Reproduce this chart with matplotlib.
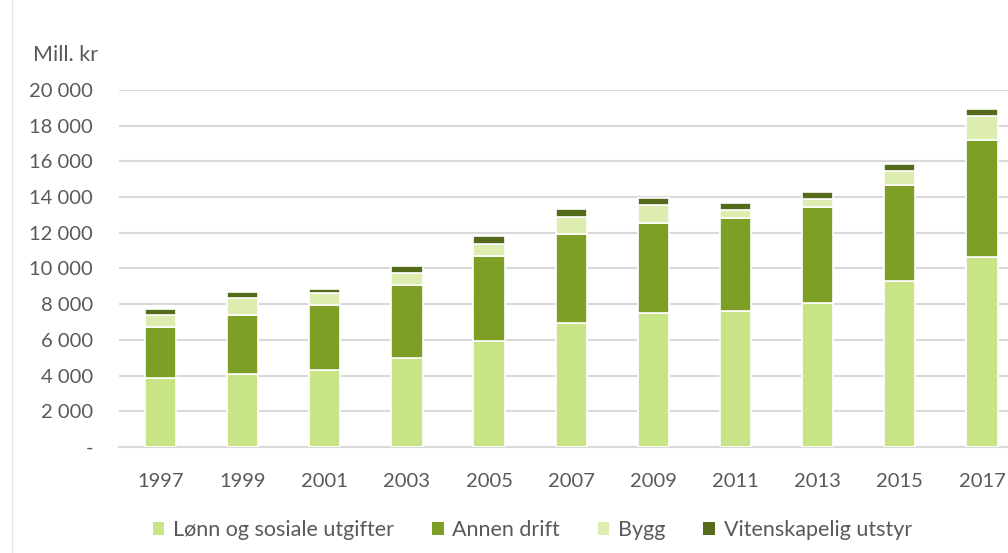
import matplotlib
matplotlib.use("Agg")
import matplotlib.pyplot as plt
import numpy as np
from matplotlib.patches import Patch
from matplotlib.lines import Line2D
from matplotlib.ticker import FuncFormatter

years = ["1997", "1999", "2001", "2003", "2005", "2007", "2009", "2011", "2013", "2015", "2017"]
lonn = [3870, 4090, 4330, 4970, 5960, 6950, 7520, 7640, 8050, 9320, 10660]
annen = [2850, 3290, 3630, 4090, 4720, 5000, 5010, 5190, 5410, 5360, 6520]
bygg = [690, 990, 650, 670, 690, 920, 1040, 450, 450, 780, 1380]
vitensk = [300, 310, 240, 410, 450, 440, 360, 370, 390, 410, 380]

series = [
    ("Lønn og sosiale utgifter", lonn, "#c9e387"),
    ("Annen drift", annen, "#7e9f26"),
    ("Bygg", bygg, "#dcedaf"),
    ("Vitenskapelig utstyr", vitensk, "#556b1c"),
]

plt.rcParams["font.family"] = ["Lato", "DejaVu Sans"]
text_color = "#595959"
fs = 14.5

fig = plt.figure(figsize=(10.08, 5.53), dpi=100)
ax = fig.add_axes([0.1185, 0.1917, 0.8964, 0.6456])

x = np.arange(len(years))
bottom = np.zeros(len(years))
for name, vals, color in series:
    vals = np.asarray(vals, dtype=float)
    ax.bar(x, vals, width=0.38, bottom=bottom, color=color, edgecolor="white",
           linewidth=1.2, label=name, zorder=3)
    bottom += vals

ax.set_xlim(-0.5, len(years) - 0.5)
ax.set_ylim(0, 20000)
ax.set_yticks(np.arange(0, 20001, 2000))
ax.yaxis.set_major_formatter(FuncFormatter(lambda v, _: "-" if v == 0 else f"{int(v):,}".replace(",", " ")))
ax.set_xticks(x)
ax.set_xticklabels(years)
ax.grid(axis="y", color="#d9d9d9", linewidth=1.5, zorder=0)
for s in ["top", "right", "left"]:
    ax.spines[s].set_visible(False)
ax.spines["bottom"].set_color("#d9d9d9")
ax.spines["bottom"].set_linewidth(1.5)
ax.tick_params(axis="both", length=0, labelsize=fs, colors=text_color)
ax.tick_params(axis="y", pad=19)
ax.tick_params(axis="x", pad=19)

fig.text(0.033, 0.90, "Mill. kr", fontsize=15.5, color=text_color, ha="left", va="center")

fig.add_artist(Line2D([0.012, 0.012], [0, 1], transform=fig.transFigure, color="#e6e6e6", linewidth=1))

handles = [Patch(facecolor=c, edgecolor="none", label=n) for n, _, c in series]
leg = fig.legend(handles=handles, loc="center", bbox_to_anchor=(0.528, 0.042), ncol=4,
                 frameon=False, fontsize=15.5, handlelength=0.55, handleheight=0.55,
                 handletextpad=0.4, columnspacing=1.75)
for t in leg.get_texts():
    t.set_color(text_color)

fig.savefig("out.png", dpi=100)
